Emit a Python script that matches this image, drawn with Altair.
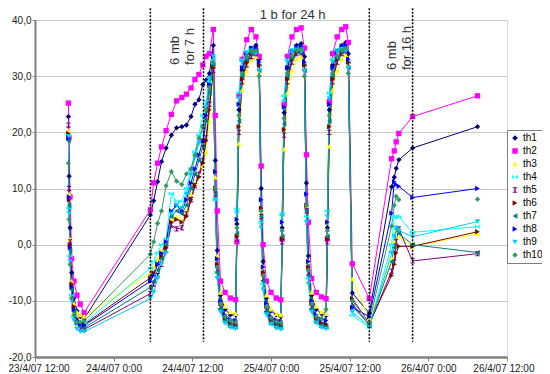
import altair as alt
import pandas as pd

# ---- data (hours after 23/4/07 12:00) ----
hours = [
    5.1, 5.2, 5.35, 5.6, 5.95, 6.4, 6.9, 7.5,
    17.6, 18.1, 18.7, 19.3, 20.0, 20.8, 21.6, 22.4, 23.1, 23.8, 24.4, 25.0, 25.6, 26.1, 26.6, 27.2,
    27.5, 27.8, 28.3, 29.0, 29.8, 30.6,
    30.8, 31.1, 31.6, 32.3, 33.0, 33.7, 34.2,
    34.5, 34.8, 35.3, 36.0, 36.8, 37.5,
    37.7, 38.0, 38.5, 39.2, 39.9, 40.6, 41.1,
    41.4, 41.7, 42.2, 42.9, 43.7, 44.4,
    44.6, 44.9, 45.4, 46.1, 46.8, 47.4, 47.8,
    48.4, 51.0,
    54.4, 54.8, 55.1, 55.5, 57.6, 67.5,
]

th1 = [22.8, 12.2, 3.0, -5.0, -9.5, -11.8, -12.8, -13.2,
       5.3, 7.8, 11.2, 14.8, 17.2, 19.5, 20.8, 21.0, 21.3, 22.8, 25.0, 25.8, 28.5, 29.3, 30.5, 35.5,
       15.0, -1.0, -9.0, -11.5, -12.5, -12.5,
       3.7, 24.0, 31.0, 34.0, 35.0, 35.5, 33.0,
       10.0, -3.0, -9.5, -11.8, -12.5, -12.8,
       3.0, 23.5, 31.5, 34.5, 35.5, 35.8, 33.5,
       11.0, -2.0, -9.0, -11.5, -12.3, -12.6,
       3.0, 24.0, 32.0, 34.5, 35.5, 36.0, 34.0,
       -8.6, -12.2,
       10.3, 12.0, 13.6, 15.1, 17.2, 21.0]
th2 = [25.2, 19.0, 8.5, -2.5, -6.5, -9.0, -10.6, -12.1,
       6.2, 11.0, 14.5, 17.4, 20.3, 23.2, 25.6, 26.2, 26.8, 27.9, 29.4, 30.3, 32.0, 33.5, 34.0, 38.3,
       23.0, 6.0, -6.5, -8.5, -9.5, -9.8,
       0.5, 26.5, 33.0, 36.5, 38.3, 37.0, 33.5,
       14.0, 0.0, -6.5, -8.5, -9.5, -9.8,
       1.0, 25.0, 33.5, 37.0, 38.3, 38.6, 35.0,
       16.0, 4.0, -6.0, -8.5, -9.3, -9.6,
       1.0, 25.5, 34.0, 37.0, 38.3, 38.8, 36.0,
       -3.4, -9.6,
       15.3, 16.7, 18.3, 19.8, 22.8, 26.5]
th3 = [20.3, 9.0, 1.0, -6.5, -10.5, -12.0, -12.5, -12.8,
       -5.0, -4.0, -2.5, -1.0, 0.5, 4.5, 5.0, 4.2, 6.0, 9.0, 11.0, 12.5, 14.0, 16.5, 22.0, 31.5,
       12.0, -2.0, -8.5, -11.0, -12.0, -12.3,
       2.0, 18.0, 27.5, 31.0, 33.0, 33.5, 31.0,
       6.0, -4.0, -9.0, -11.5, -12.3, -12.5,
       1.5, 17.0, 27.0, 31.0, 33.0, 33.5, 31.5,
       7.0, -3.0, -8.5, -11.0, -12.0, -12.3,
       1.5, 17.5, 27.5, 31.0, 33.0, 33.8, 32.0,
       -6.1, -13.2,
       -2.4, 0.6, 2.9, 1.5, -0.3, 1.9]
th4 = [19.5, 6.5, -2.0, -9.0, -12.8, -14.0, -14.2, -14.0,
       -4.2, -3.0, -1.5, 0.0, 1.0, 9.1, 7.7, 7.7, 10.0, 13.5, 16.5, 19.5, 23.0, 25.5, 29.0, 33.0,
       8.0, -5.0, -11.5, -13.5, -14.5, -14.8,
       6.3, 27.0, 33.0, 34.5, 35.0, 34.5, 32.0,
       4.0, -7.0, -12.0, -14.0, -14.6, -14.9,
       5.5, 26.5, 33.0, 34.8, 35.2, 34.8, 32.0,
       5.0, -6.0, -11.5, -13.8, -14.5, -14.8,
       6.0, 27.0, 33.0, 34.8, 35.3, 35.0, 32.5,
       -12.6, -14.7,
       0.0, 4.8, 5.1, 4.9, 2.2, 3.2]
th5 = [21.3, 10.0, 0.5, -7.5, -11.5, -13.8, -14.8, -15.1,
       -8.7, -7.0, -5.5, -3.5, -1.0, 3.5, 2.8, 3.0, 5.5, 8.0, 10.5, 12.5, 15.0, 19.0, 25.0, 31.0,
       9.0, -4.5, -11.0, -13.5, -14.3, -14.5,
       1.0, 20.0, 29.0, 32.0, 33.5, 34.0, 31.5,
       5.0, -6.0, -11.5, -13.8, -14.4, -14.6,
       0.5, 19.5, 29.0, 32.5, 34.0, 34.2, 31.5,
       6.0, -5.0, -11.0, -13.5, -14.3, -14.5,
       0.5, 20.0, 29.0, 32.5, 34.0, 34.5, 32.0,
       -10.5, -14.3,
       -4.7, -3.1, 0.5, 2.8, -2.9, -1.6]
th6 = [19.8, 8.0, 0.0, -7.0, -11.0, -13.2, -14.0, -14.2,
       -5.9, -5.0, -3.5, -2.0, -0.5, 4.0, 4.5, 4.0, 5.0, 8.0, 10.5, 12.0, 14.5, 18.5, 24.0, 31.5,
       10.0, -3.5, -10.5, -13.0, -14.0, -14.2,
       1.5, 21.0, 29.5, 32.5, 34.0, 34.5, 32.0,
       6.5, -5.0, -11.0, -13.3, -14.0, -14.3,
       1.0, 20.5, 29.5, 33.0, 34.2, 34.5, 32.0,
       7.0, -4.0, -10.5, -13.0, -13.9, -14.2,
       1.0, 21.0, 29.5, 33.0, 34.2, 34.8, 32.5,
       -9.6, -14.0,
       -5.5, -3.5, -1.5, -0.3, -0.3, 2.3]
th7 = [18.5, 7.0, -1.0, -8.0, -12.0, -14.0, -14.6, -14.8,
       -7.6, -6.5, -4.5, -2.5, 0.0, 5.0, 6.0, 5.5, 7.0, 10.0, 12.5, 15.0, 17.5, 22.0, 27.0, 32.0,
       9.0, -5.0, -11.5, -13.5, -14.3, -14.6,
       2.0, 22.0, 30.0, 33.0, 34.0, 34.5, 31.0,
       5.0, -6.5, -12.0, -13.8, -14.4, -14.7,
       1.5, 21.5, 30.0, 33.2, 34.3, 34.6, 31.0,
       6.0, -5.5, -11.5, -13.6, -14.3, -14.6,
       1.5, 22.0, 30.0, 33.2, 34.3, 34.8, 31.5,
       -11.0, -14.2,
       -3.0, -0.5, 2.8, 2.0, 0.0, -1.4]
th8 = [19.0, 8.5, -0.5, -7.5, -11.5, -13.5, -14.2, -14.4,
       -6.5, -5.5, -3.5, -1.5, 0.5, 6.0, 7.0, 6.0, 8.0, 11.0, 13.5, 16.0, 18.5, 23.0, 28.5, 33.5,
       13.0, -2.5, -10.0, -12.5, -13.3, -13.5,
       4.5, 25.0, 31.5, 34.0, 35.0, 35.0, 32.5,
       8.0, -4.0, -10.5, -12.8, -13.4, -13.6,
       4.0, 24.5, 31.5, 34.3, 35.2, 35.3, 32.5,
       9.0, -3.0, -10.0, -12.5, -13.3, -13.5,
       4.0, 25.0, 31.5, 34.3, 35.2, 35.5, 33.0,
       -11.2, -12.8,
       5.6, 11.2, 10.7, 10.4, 8.4, 10.0]
th9 = [19.3, 5.5, -3.0, -10.0, -13.5, -15.0, -15.5, -15.5,
       -9.6, -8.5, -6.0, -3.5, -1.5, 5.5, 7.0, 6.5, 9.0, 12.5, 15.5, 18.0, 21.0, 24.5, 29.5, 33.5,
       8.0, -6.0, -12.0, -14.0, -14.8, -15.0,
       5.5, 26.0, 32.5, 34.0, 34.5, 34.0, 31.0,
       3.0, -8.0, -12.5, -14.2, -14.9, -15.1,
       5.0, 25.5, 32.5, 34.2, 34.7, 34.3, 31.0,
       4.0, -7.0, -12.0, -14.0, -14.8, -15.0,
       5.0, 26.0, 32.5, 34.2, 34.8, 34.5, 31.5,
       -12.0, -14.5,
       -1.5, 1.5, 3.0, 2.5, 1.4, 4.1]
th10 = [14.5, 4.5, -3.5, -9.5, -12.5, -13.8, -13.8, -13.6,
        -1.7, 0.5, 3.8, 6.0, 10.5, 13.0, 11.3, 10.7, 12.6, 13.5, 16.0, 19.0, 21.0, 24.0, 28.0, 32.5,
        10.0, -4.0, -10.5, -12.8, -13.5, -13.8,
        3.0, 23.0, 30.5, 33.5, 34.5, 34.5, 30.0,
        6.0, -5.5, -11.0, -13.0, -13.7, -13.9,
        2.5, 22.5, 30.5, 33.6, 34.6, 34.8, 30.0,
        7.0, -4.5, -10.5, -12.8, -13.2, -11.5,
        2.5, 23.0, 30.5, 33.6, 34.6, 35.0, 30.5,
        -10.0, -13.8,
        3.3, 7.0, 8.6, 8.0, None, 8.1]

series_names = ["th1", "th2", "th3", "th4", "th5", "th6", "th7", "th8", "th9", "th10"]
series_values = [th1, th2, th3, th4, th5, th6, th7, th8, th9, th10]
series_colors = ["#000080", "#FF00FF", "#FFFF00", "#00FFFF", "#800080",
                 "#800000", "#008080", "#0000FF", "#00CCFF", "#339966"]
series_shapes = [
    "diamond", "square", "triangle-up",
    "M-1,-0.8L0,0L-1,0.8ZM1,-0.8L0,0L1,0.8Z",
    "M-0.8,-1H0.8V-0.6H0.25V0.6H0.8V1H-0.8V0.6H-0.25V-0.6H-0.8Z",
    "triangle-right", "triangle-left", "triangle-right", "triangle-down", "diamond",
]

# annotations
rule_hours = [17.6, 25.7, 51.0, 57.6]
rule_top = 42.1
rule_bottom = -17.3
rot_text_hours = [21.4, 54.4]
rot_text_y = [32.0, 31.1]
rot_text_labels = ["6 mb\nfor 7 h", "6 mb\nfor 16 h"]
top_text_hours = [39.3]
top_text_y = [40.18]
top_text_labels = ["1 b for 24 h"]

x_tick_hours = [0, 12, 24, 36, 48, 60, 72]
y_ticks = [-20, -10, 0, 10, 20, 30, 40]

# ---- build tables ----
base = pd.Timestamp("2007-04-23 12:00")
def to_time(hs):
    return [base + pd.Timedelta(hours=h) for h in hs]

rows = []
for idx, (name, vals) in enumerate(zip(series_names, series_values)):
    for t, v in zip(to_time(hours), vals):
        rows.append({"series": name, "sid": idx, "time": t, "temp": v})
df = pd.DataFrame(rows)

rules_df = pd.DataFrame({"time": to_time(rule_hours), "top": rule_top, "bottom": rule_bottom})
rot_df = pd.DataFrame({"time": to_time(rot_text_hours), "y": rot_text_y, "label": rot_text_labels})
top_df = pd.DataFrame({"time": to_time(top_text_hours), "y": top_text_y, "label": top_text_labels})

def dt(h):
    t = base + pd.Timedelta(hours=h)
    return alt.DateTime(year=t.year, month=t.month, date=t.day, hours=t.hour, minutes=t.minute)

FONT = "Liberation Sans"
x_scale = alt.Scale(domain=[dt(0), dt(72)])
y_scale = alt.Scale(domain=[-20, 40], nice=False)

x_axis = alt.Axis(values=[dt(h) for h in x_tick_hours], format="%-d/%-m/%y %-H:%M", formatType="time",
                  grid=False, domainColor="#808080", domainWidth=2.5, tickColor="#808080", tickSize=4,
                  labelFontSize=10, labelFont=FONT, labelColor="#222222", labelPadding=2,
                  labelFlush=True, labelFlushOffset=27, title=None)
y_axis = alt.Axis(values=y_ticks,
                  labelExpr="(datum.value < 0 ? '-' : '') + replace(format(abs(datum.value), '.1f'), '.', ',')",
                  grid=True, gridColor="#c8c8c8", gridWidth=1,
                  domainColor="#808080", domainWidth=2, tickColor="#808080", tickSize=3,
                  labelFontSize=10, labelFont=FONT, labelColor="#222222", labelPadding=1, title=None)

X = alt.X("time:T", scale=x_scale, axis=x_axis, title=None)
Y = alt.Y("temp:Q", scale=y_scale, axis=y_axis, title=None)

legend = alt.Legend(orient="none", legendX=472, legendY=110, title=None,
                    labelFontSize=10, labelFont=FONT, labelColor="#000000",
                    symbolSize=30, rowPadding=3, padding=3, labelOffset=3,
                    strokeColor="#808080", fillColor="white")

lines = alt.Chart(df).mark_line(strokeWidth=1, invalid="break-paths-show-domains").encode(
    x=X, y=Y,
    stroke=alt.Stroke("sid:N", scale=alt.Scale(domain=list(range(len(series_names))), range=series_colors),
                      legend=None),
)

points = alt.Chart(df).mark_point(filled=True, size=28, opacity=1).encode(
    x=X, y=Y,
    color=alt.Color("series:N", scale=alt.Scale(domain=series_names, range=series_colors), legend=legend),
    shape=alt.Shape("series:N", scale=alt.Scale(domain=series_names, range=series_shapes), legend=legend),
)

rules = alt.Chart(rules_df).mark_rule(color="black", strokeDash=[2, 1.5], strokeWidth=1.5).encode(
    x=alt.X("time:T", title=None), y=alt.Y("top:Q", title=None), y2="bottom:Q")

rot_text = alt.Chart(rot_df).mark_text(angle=270, align="left", baseline="middle", fontSize=13,
                                       font=FONT, color="#333333", lineBreak="\n", lineHeight=15).encode(
    x=alt.X("time:T", title=None), y=alt.Y("y:Q", title=None), text="label:N")

top_text = alt.Chart(top_df).mark_text(align="center", baseline="alphabetic", fontSize=13,
                                       font=FONT, color="#333333").encode(
    x=alt.X("time:T", title=None), y=alt.Y("y:Q", title=None), text="label:N")

chart = alt.layer(lines, points, rules, rot_text, top_text).properties(
    width=472, height=337,
    autosize=alt.AutoSizeParams(type="none"),
    padding={"left": 27, "top": 12, "right": 35, "bottom": 17},
).configure_view(stroke="black", strokeWidth=1).configure(background="white")

chart.save("out.html", embed_options={"renderer": "svg", "actions": False})
